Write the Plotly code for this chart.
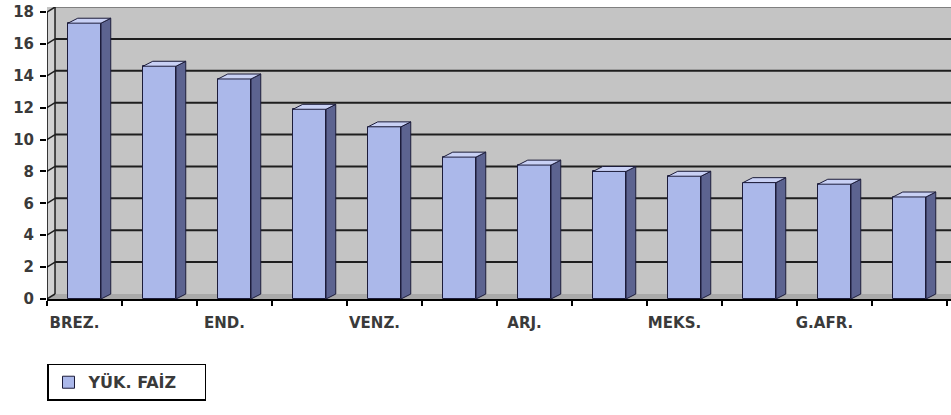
import plotly.graph_objects as go

# Interest rates by country (every other category is labelled on the axis)
values = [17.3, 14.6, 13.8, 11.9, 10.8, 8.9, 8.4, 8.0, 7.7, 7.3, 7.2, 6.4]
tick_positions = [0, 2, 4, 6, 8, 10]
tick_labels = ["BREZ.", "END.", "VENZ.", "ARJ.", "MEKS.", "G.AFR."]
y_ticks = [0, 2, 4, 6, 8, 10, 12, 14, 16, 18]
series_name = "YÜK. FAİZ"

# Pseudo-3D geometry (axis units)
BAR_W = 0.44
BAR_DX, BAR_DY = 0.13, 0.31
WALL_DX, WALL_DY = 0.107, 0.314
X0 = -0.5
X_MAX = -0.5 + 904 / 75
Y_TOP = 18

FRONT = "#abb8ea"
TOP = "#c9d1f5"
SIDE = "#5c6390"
EDGE = "#1c1c3a"
WALL = "#c4c4c4"
LEFT_WALL = "#d2d2d2"
FLOOR = "#a9a9a9"
GRID = "#1e1e1e"
TXT = "#3a3a3a"
FONT = "DejaVu Sans"

fig = go.Figure()

# Front faces of the columns
xs = list(range(len(values)))
fig.add_trace(go.Bar(
    x=xs, y=values, width=BAR_W, name=series_name,
    marker=dict(color=FRONT, line=dict(color=EDGE, width=1)),
    hoverinfo="skip", showlegend=True,
))

# Right side faces and top faces
side_x, side_y, top_x, top_y = [], [], [], []
for i, v in zip(xs, values):
    xl, xr = i - BAR_W / 2, i + BAR_W / 2
    side_x += [xr, xr + BAR_DX, xr + BAR_DX, xr, xr, None]
    side_y += [0, BAR_DY, v + BAR_DY, v, 0, None]
    top_x += [xl, xl + BAR_DX, xr + BAR_DX, xr, xl, None]
    top_y += [v, v + BAR_DY, v + BAR_DY, v, v, None]

fig.add_trace(go.Scatter(
    x=side_x, y=side_y, mode="lines", fill="toself", fillcolor=SIDE,
    line=dict(color=EDGE, width=1), hoverinfo="skip", showlegend=False,
))
fig.add_trace(go.Scatter(
    x=top_x, y=top_y, mode="lines", fill="toself", fillcolor=TOP,
    line=dict(color=EDGE, width=1), hoverinfo="skip", showlegend=False,
))

shapes = []
bx = X0 + WALL_DX
# floor and left wall
shapes.append(dict(type="path", xref="x", yref="y", layer="below",
                   path=f"M{X0},0 L{X_MAX},0 L{X_MAX},{WALL_DY} L{bx},{WALL_DY} Z",
                   fillcolor=FLOOR, line=dict(width=0)))
shapes.append(dict(type="path", xref="x", yref="y", layer="below",
                   path=f"M{X0},0 L{X0},{Y_TOP} L{bx},{Y_TOP + WALL_DY} L{bx},{WALL_DY} Z",
                   fillcolor=LEFT_WALL, line=dict(width=0)))
# gridlines on the back wall, with their run across the left wall
for v in y_ticks:
    yb = v + WALL_DY
    shapes.append(dict(type="line", xref="x", yref="y", layer="between",
                       x0=X0, y0=v, x1=bx, y1=yb, line=dict(color=GRID, width=1.5)))
    if 0 < v < Y_TOP:
        shapes.append(dict(type="line", xref="x", yref="y", layer="between",
                           x0=bx, y0=yb, x1=X_MAX, y1=yb, line=dict(color=GRID, width=2)))
shapes.append(dict(type="line", xref="x", yref="y", layer="between",
                   x0=bx, y0=Y_TOP + WALL_DY, x1=X_MAX, y1=Y_TOP + WALL_DY,
                   line=dict(color="#6a6a6a", width=1.5)))
shapes.append(dict(type="line", xref="x", yref="y", layer="between",
                   x0=bx, y0=WALL_DY, x1=bx, y1=Y_TOP + WALL_DY,
                   line=dict(color=GRID, width=1.5)))
# front value axis line
shapes.append(dict(type="line", xref="x", yref="y", layer="above",
                   x0=X0, y0=0, x1=X0, y1=Y_TOP, line=dict(color="black", width=1.5)))

fig.update_layout(
    width=951, height=415,
    margin=dict(l=47, r=0, t=7, b=116),
    paper_bgcolor="white", plot_bgcolor=WALL,
    shapes=shapes,
    bargap=0,
    font=dict(family=FONT, size=15, color=TXT, weight="bold"),
    xaxis=dict(
        range=[X0, X_MAX], tickmode="array", tickvals=tick_positions, ticktext=tick_labels,
        ticks="", showgrid=False, zeroline=False,
        showline=True, linecolor="black", linewidth=1.5,
        ticklabelshift=-10, ticklabelstandoff=9,
        tickfont=dict(family=FONT, size=15, color=TXT, weight="bold"),
        minor=dict(tickmode="array", tickvals=[i - 0.5 for i in range(len(values) + 1)],
                   ticks="outside", ticklen=5, tickwidth=1.5, tickcolor="black", showgrid=False),
    ),
    yaxis=dict(
        range=[0, Y_TOP + WALL_DY], tickmode="array", tickvals=y_ticks,
        ticks="outside", ticklen=6, tickwidth=1.5, tickcolor="black",
        showgrid=False, zeroline=False, showline=False,
        ticklabelstandoff=3,
        tickfont=dict(family=FONT, size=15, color=TXT, weight="bold"),
    ),
    legend=dict(
        orientation="h",
        x=0, xanchor="left", y=-0.222, yanchor="top",
        bgcolor="white", bordercolor="black", borderwidth=1.5,
        font=dict(family=FONT, size=16, color=TXT, weight="bold"),
        itemwidth=30, entrywidth=111, entrywidthmode="pixels",
    ),
    showlegend=True,
)

fig.write_html("out.html")
